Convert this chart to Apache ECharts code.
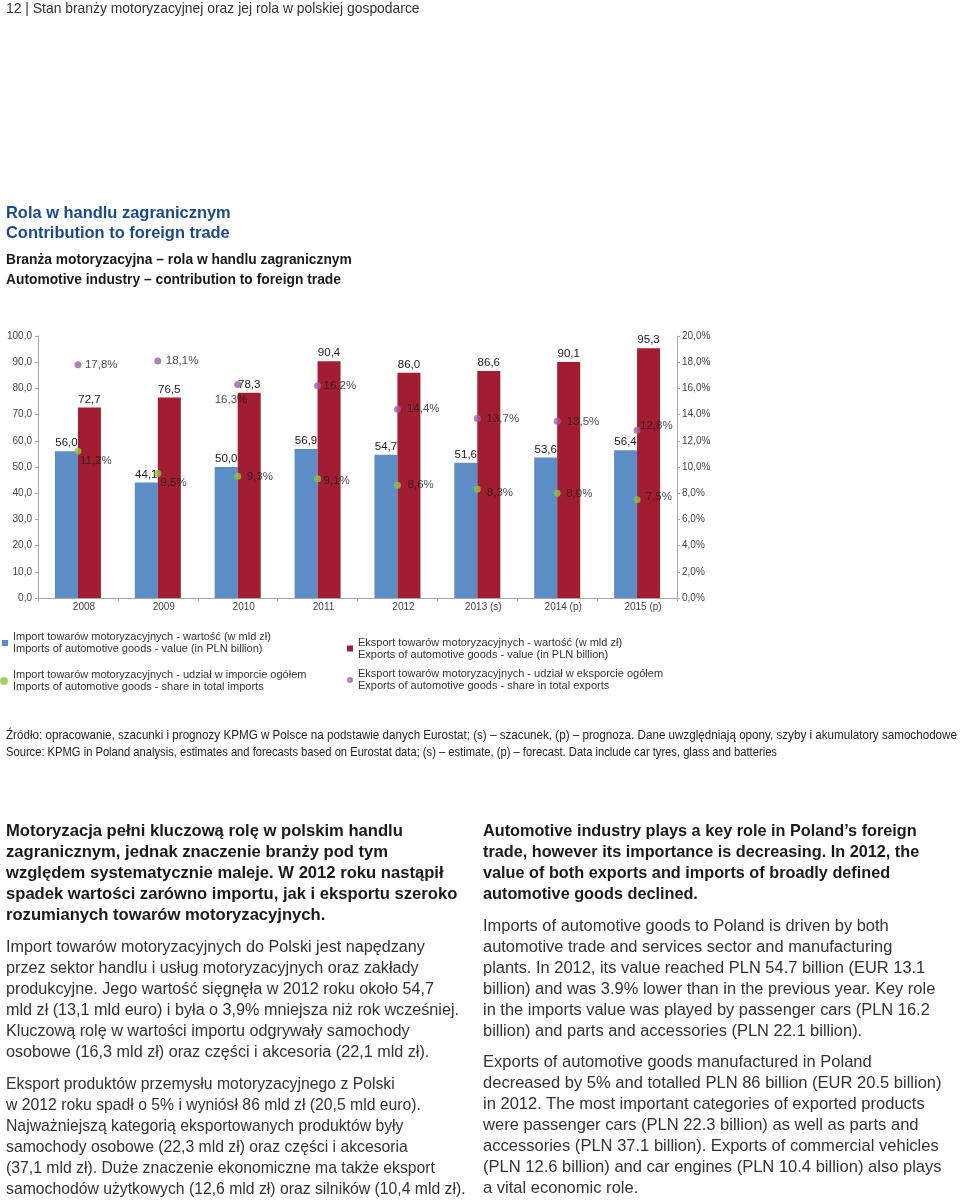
<!DOCTYPE html>
<html><head><meta charset="utf-8">
<script src="https://cdn.jsdelivr.net/npm/echarts@6/dist/echarts.min.js"></script>
<style>
html,body{margin:0;padding:0;background:#fff}
body{width:960px;height:1200px;position:relative;overflow:hidden;font-family:"Liberation Sans",Arial,sans-serif;color:#222}
#chart{position:absolute;left:0;top:0;width:960px;height:1200px;z-index:1}
.blk{position:absolute;white-space:nowrap;z-index:2}
.blk div{white-space:nowrap}
.src div span{display:inline-block;transform-origin:0 50%}
</style></head><body>
<div id="chart"></div>

<div class="blk fit" data-w="414" style="left:6px;top:0px;line-height:16px;font-size:14px;color:#333"><div><span>12 | Stan branży motoryzacyjnej oraz jej rola w polskiej gospodarce</span></div></div>

<div class="blk fit" data-w="225" style="left:6px;top:201.7px;line-height:20px;font-size:15px;font-weight:bold;color:#1b4a8c">
<div><span>Rola w handlu zagranicznym</span></div>
<div><span>Contribution to foreign trade</span></div>
</div>

<div class="blk fit" data-w="346" style="left:6px;top:249px;line-height:20px;font-size:13.5px;font-weight:bold;color:#1a1a1a">
<div><span>Branża motoryzacyjna – rola w handlu zagranicznym</span></div>
<div><span>Automotive industry – contribution to foreign trade</span></div>
</div>

<div class="blk src" style="left:6px;top:726.5px;line-height:17px;font-size:12px;color:#222">
<div><span data-sw="951">Źródło: opracowanie, szacunki i prognozy KPMG w Polsce na podstawie danych Eurostat; (s) – szacunek, (p) – prognoza. Dane uwzględniają opony, szyby i akumulatory samochodowe</span></div>
<div><span data-sw="771">Source: KPMG in Poland analysis, estimates and forecasts based on Eurostat data; (s) – estimate, (p) – forecast. Data include car tyres, glass and batteries</span></div>
</div>

<div class="blk fit" data-w="397" style="left:6px;top:819.5px;line-height:21px;font-size:16px;font-weight:bold;color:#1a1a1a">
<div><span>Motoryzacja pełni kluczową rolę w polskim handlu</span></div>
<div><span>zagranicznym, jednak znaczenie branży pod tym</span></div>
<div><span>względem systematycznie maleje. W 2012 roku nastąpił</span></div>
<div><span>spadek wartości zarówno importu, jak i eksportu szeroko</span></div>
<div><span>rozumianych towarów motoryzacyjnych.</span></div>
</div>

<div class="blk fit" data-w="419" style="left:6px;top:935.5px;line-height:21px;font-size:16px;color:#333">
<div><span>Import towarów motoryzacyjnych do Polski jest napędzany</span></div>
<div><span>przez sektor handlu i usług motoryzacyjnych oraz zakłady</span></div>
<div><span>produkcyjne. Jego wartość sięgnęła w 2012 roku około 54,7</span></div>
<div><span>mld zł (13,1 mld euro) i była o 3,9% mniejsza niż rok wcześniej.</span></div>
<div><span>Kluczową rolę w wartości importu odgrywały samochody</span></div>
<div><span>osobowe (16,3 mld zł) oraz części i akcesoria (22,1 mld zł).</span></div>
</div>

<div class="blk fit" data-w="389" style="left:6px;top:1072.5px;line-height:21px;font-size:16px;color:#333">
<div><span>Eksport produktów przemysłu motoryzacyjnego z Polski</span></div>
<div><span>w 2012 roku spadł o 5% i wyniósł 86 mld zł (20,5 mld euro).</span></div>
<div><span>Najważniejszą kategorią eksportowanych produktów były</span></div>
<div><span>samochody osobowe (22,3 mld zł) oraz części i akcesoria</span></div>
<div><span>(37,1 mld zł). Duże znaczenie ekonomiczne ma także eksport</span></div>
<div><span>samochodów użytkowych (12,6 mld zł) oraz silników (10,4 mld zł).</span></div>
</div>

<div class="blk fit" data-w="434" style="left:483px;top:819.5px;line-height:21px;font-size:16px;font-weight:bold;color:#1a1a1a">
<div><span>Automotive industry plays a key role in Poland’s foreign</span></div>
<div><span>trade, however its importance is decreasing. In 2012, the</span></div>
<div><span>value of both exports and imports of broadly defined</span></div>
<div><span>automotive goods declined.</span></div>
</div>

<div class="blk fit" data-w="406" style="left:483px;top:914.5px;line-height:21px;font-size:16px;color:#333">
<div><span>Imports of automotive goods to Poland is driven by both</span></div>
<div><span>automotive trade and services sector and manufacturing</span></div>
<div><span>plants. In 2012, its value reached PLN 54.7 billion (EUR 13.1</span></div>
<div><span>billion) and was 3.9% lower than in the previous year. Key role</span></div>
<div><span>in the imports value was played by passenger cars (PLN 16.2</span></div>
<div><span>billion) and parts and accessories (PLN 22.1 billion).</span></div>
</div>

<div class="blk fit" data-w="389" style="left:483px;top:1051.2px;line-height:21px;font-size:16px;color:#333">
<div><span>Exports of automotive goods manufactured in Poland</span></div>
<div><span>decreased by 5% and totalled PLN 86 billion (EUR 20.5 billion)</span></div>
<div><span>in 2012. The most important categories of exported products</span></div>
<div><span>were passenger cars (PLN 22.3 billion) as well as parts and</span></div>
<div><span>accessories (PLN 37.1 billion). Exports of commercial vehicles</span></div>
<div><span>(PLN 12.6 billion) and car engines (PLN 10.4 billion) also plays</span></div>
<div><span>a vital economic role.</span></div>
</div>

<script>
// ---- data ----
var categories = ['2008', '2009', '2010', '2011', '2012', '2013 (s)', '2014 (p)', '2015 (p)'];
var importValue = [56.0, 44.1, 50.0, 56.9, 54.7, 51.6, 53.6, 56.4];
var exportValue = [72.7, 76.5, 78.3, 90.4, 86.0, 86.6, 90.1, 95.3];
var importShare = [11.2, 9.5, 9.3, 9.1, 8.6, 8.3, 8.0, 7.5];
var exportShare = [17.8, 18.1, 16.3, 16.2, 14.4, 13.7, 13.5, 12.8];
var leftTicks = {min: 0, max: 100, interval: 10};
var rightTicks = {min: 0, max: 20, interval: 2};

var seriesNames = {
  impVal: 'Import towarów motoryzacyjnych - wartość (w mld zł)\nImports of automotive goods - value (in PLN billion)',
  expVal: 'Eksport towarów motoryzacyjnych - wartość (w mld zł)\nExports of automotive goods - value (in PLN billion)',
  impShare: 'Import towarów motoryzacyjnych - udział w imporcie ogółem\nImports of automotive goods - share in total imports',
  expShare: 'Eksport towarów motoryzacyjnych - udział w eksporcie ogółem\nExports of automotive goods - share in total exports'
};

// ---- label placement (style only, relative to each dot) ----
var exportShareLabelPos = [[10.5,3.2],[11.5,3.5],[-19.5,19],[9.5,3.5],[13,3],[12.7,4],[13,4],[6.5,-1]];
var importShareLabelPos = [[5.5,13.2],[6.2,13],[12.5,4],[9.5,5.4],[13.7,3.2],[13,7.2],[12.5,4.3],[12.2,0.8]];

function fmt1(v){ return Number(v).toFixed(1).replace('.', ','); }
function fmtPct(v){ return fmt1(v) + '%'; }

var FONT = '"Liberation Sans", Arial, sans-serif';
var labelStyle = {fontFamily: FONT, fontSize: 11.5, color: '#1a1a1a'};

function shareData(values, pos){
  return values.map(function(v, i){
    return {value: v, label: {position: pos[i]}};
  });
}

var chart = echarts.init(document.getElementById('chart'));
var axisLineStyle = {color: '#a6a6a6', width: 1};
function legendAt(name, left, top, icon, size){
  return {
    data: [name], left: left, top: top, orient: 'vertical',
    icon: icon, itemWidth: size, itemHeight: size, padding: 0,
    selectedMode: false,
    textStyle: {fontFamily: FONT, fontSize: 11, lineHeight: 12, color: '#333'}
  };
}
chart.setOption({
  animation: false,
  textStyle: {fontFamily: FONT},
  grid: {left: 38, right: 283, top: 336, bottom: 602, containLabel: false},
  legend: [
    legendAt(seriesNames.impVal, 2, 631, 'rect', 6),
    legendAt(seriesNames.impShare, 0, 669, 'circle', 8),
    legendAt(seriesNames.expVal, 347, 636.5, 'rect', 6),
    legendAt(seriesNames.expShare, 347, 668, 'circle', 6)
  ],
  xAxis: {
    type: 'category', data: categories, boundaryGap: true,
    axisLine: {lineStyle: axisLineStyle},
    axisTick: {show: true, length: 3, alignWithLabel: false, lineStyle: axisLineStyle},
    axisLabel: {fontFamily: FONT, fontSize: 10, color: '#444', margin: 4, padding: [0,0,0,12], interval: 0}
  },
  yAxis: [{
    type: 'value', min: leftTicks.min, max: leftTicks.max, interval: leftTicks.interval,
    axisLine: {show: true, lineStyle: axisLineStyle},
    axisTick: {show: true, length: 3, lineStyle: axisLineStyle},
    splitLine: {show: false},
    axisLabel: {fontFamily: FONT, fontSize: 10, color: '#444', margin: 6, formatter: fmt1}
  }, {
    type: 'value', min: rightTicks.min, max: rightTicks.max, interval: rightTicks.interval,
    position: 'right',
    axisLine: {show: true, lineStyle: axisLineStyle},
    axisTick: {show: true, length: 3, lineStyle: axisLineStyle},
    splitLine: {show: false},
    axisLabel: {fontFamily: FONT, fontSize: 10, color: '#444', margin: 5, formatter: fmtPct}
  }],
  series: [{
    name: seriesNames.impVal, type: 'bar', yAxisIndex: 0, data: importValue,
    barWidth: 23, barGap: '0%', itemStyle: {color: '#5b8ec6'},
    label: Object.assign({show: true, position: 'top', distance: 2, formatter: function(p){return fmt1(p.value);}}, labelStyle)
  }, {
    name: seriesNames.expVal, type: 'bar', yAxisIndex: 0, data: exportValue,
    barWidth: 23, barGap: '0%', itemStyle: {color: '#a21d32'},
    label: Object.assign({show: true, position: 'top', distance: 2, formatter: function(p){return fmt1(p.value);}}, labelStyle)
  }, {
    name: seriesNames.impShare, type: 'scatter', yAxisIndex: 1, data: shareData(importShare, importShareLabelPos),
    symbol: 'circle', symbolSize: 7, itemStyle: {color: '#8cc63f'}, z: 5,
    label: Object.assign({show: true, align: 'left', verticalAlign: 'middle', formatter: function(p){return fmtPct(p.value);}}, labelStyle)
  }, {
    name: seriesNames.expShare, type: 'scatter', yAxisIndex: 1, data: shareData(exportShare, exportShareLabelPos),
    symbol: 'circle', symbolSize: 7, itemStyle: {color: '#9d5fa8'}, z: 5,
    label: Object.assign({show: true, align: 'left', verticalAlign: 'middle', formatter: function(p){return fmtPct(p.value);}}, labelStyle)
  }]
});

// ---- fit text blocks to the reference line widths ----
document.querySelectorAll('.fit').forEach(function(el){
  var target = +el.dataset.w;
  var span = el.querySelector('span');
  var w = span.getBoundingClientRect().width;
  var fs = parseFloat(getComputedStyle(el).fontSize);
  if (w > 0) el.style.fontSize = (fs * target / w).toFixed(2) + 'px';
});
document.querySelectorAll('[data-sw]').forEach(function(sp){
  var target = +sp.dataset.sw;
  var w = sp.getBoundingClientRect().width;
  if (w > 0) sp.style.transform = 'scaleX(' + (target / w).toFixed(4) + ')';
});
</script>
</body></html>
